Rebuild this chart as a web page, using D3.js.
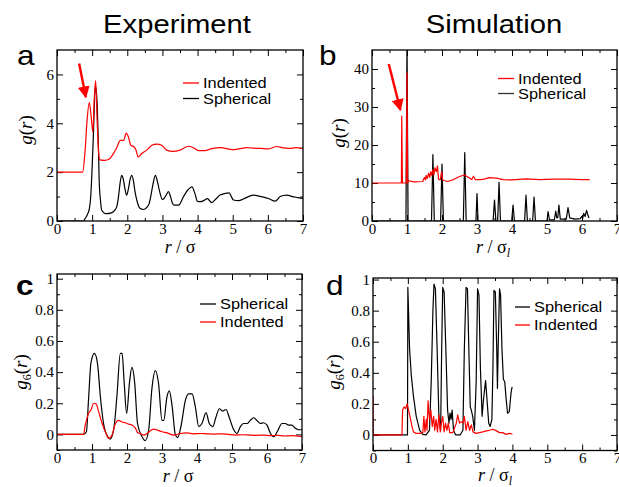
<!DOCTYPE html>
<html><head><meta charset="utf-8">
<script src="https://cdn.jsdelivr.net/npm/d3@7"></script>
<style>body{margin:0;background:#fff}svg{display:block}
.serif{font-family:'Liberation Serif','DejaVu Serif','Times New Roman',Times,serif}
</style>
</head><body>
<script>
// ---------------- DATA ----------------
const xMajor = [0,1,2,3,4,5,6,7];
const xMinor = [0.5,1.5,2.5,3.5,4.5,5.5,6.5];
const aYMajor = [0,2,4,6];
const aYMinor = [1,3,5];
const bYMajor = [0,10,20,30,40];
const bYMinor = [5,15,25,35];
const cdYMajor = [0,0.2,0.4,0.6,0.8,1];
const cdYMinor = [-0.1,0.1,0.3,0.5,0.7,0.9];
const cdYLabels = ["0","0.2","0.4","0.6","0.8","1"];

// Panel a: experiment g(r)
const aIndented = [[0,2],[0.73,2],[0.8,2.9],[0.86,4.2],[0.92,4.85],[0.97,4.3],[1.02,3.65],[1.06,5.0],[1.10,5.75],[1.14,4.2],[1.18,2.9],[1.22,2.5],[1.35,2.48],[1.5,2.55],[1.6,2.75],[1.7,3.0],[1.8,3.3],[1.9,3.3],[1.97,3.6],[2.03,3.45],[2.1,3.1],[2.18,3.05],[2.25,2.9],[2.31,2.62],[2.41,2.76],[2.55,2.9],[2.7,3.1],[2.84,3.15],[2.98,3.1],[3.12,2.9],[3.3,2.85],[3.5,2.9],[3.74,3.06],[3.88,3.0],[4.03,2.88],[4.2,2.88],[4.4,2.96],[4.65,3.0],[5.0,2.92],[5.2,2.96],[5.4,3.0],[5.6,2.98],[5.8,2.97],[6.0,2.95],[6.26,3.05],[6.4,3.0],[6.6,2.97],[6.8,3.0],[7.0,2.96]];
const aSpherical = [[0,0],[0.75,0],[0.8,0.1],[0.86,0.25],[0.92,0.5],[0.96,1.0],[1.0,2.2],[1.03,3.3],[1.06,4.6],[1.09,5.5],[1.12,5.3],[1.15,4.5],[1.18,3.0],[1.2,1.67],[1.24,0.8],[1.27,0.45],[1.35,0.32],[1.42,0.3],[1.52,0.32],[1.6,0.38],[1.7,0.58],[1.75,1.0],[1.8,1.6],[1.84,1.87],[1.88,1.75],[1.93,1.35],[1.98,1.06],[2.03,1.3],[2.08,1.7],[2.13,1.87],[2.18,1.6],[2.22,1.2],[2.27,0.86],[2.36,0.52],[2.46,0.47],[2.55,0.55],[2.62,0.7],[2.68,1.1],[2.73,1.5],[2.8,1.87],[2.86,1.6],[2.93,1.15],[3.0,0.88],[3.06,0.95],[3.12,1.1],[3.17,1.2],[3.23,1.0],[3.28,0.75],[3.33,0.65],[3.46,0.65],[3.6,1.0],[3.74,1.3],[3.84,1.4],[3.93,1.1],[4.0,0.8],[4.08,0.79],[4.17,0.83],[4.28,0.92],[4.4,0.75],[4.52,0.9],[4.64,1.06],[4.79,1.13],[4.9,1.15],[4.96,1.0],[5.02,0.86],[5.17,0.83],[5.3,0.9],[5.45,1.0],[5.59,1.06],[5.74,1.02],[5.88,0.98],[6.02,0.92],[6.21,0.81],[6.35,1.0],[6.54,1.06],[6.7,1.0],[6.85,0.96],[7.0,0.92]];

// Panel b: simulation g(r)
const bIndented = [[0,10],[0.84,10],[0.85,27.6],[0.87,10],[0.98,10],[1.0,39],[1.02,10],[1.05,10.6],[1.2,10.3],[1.45,10.4],[1.5,11.5],[1.53,10.8],[1.55,12],[1.58,11.2],[1.62,12.6],[1.65,11.5],[1.68,13],[1.71,12],[1.74,13.5],[1.77,12.2],[1.8,14],[1.84,13],[1.87,14.5],[1.9,11],[1.95,10.8],[1.99,13],[2.02,10.8],[2.08,10.6],[2.16,10.4],[2.3,10.8],[2.5,11.7],[2.64,12.1],[2.75,11.5],[2.85,10.9],[2.9,11.8],[2.95,10.9],[3.1,10.9],[3.2,11],[3.35,11.4],[3.55,11.3],[3.75,10.9],[4.0,10.8],[4.4,11.1],[4.8,10.9],[5.2,11],[5.6,11],[6.0,10.9],[6.22,10.9]];
const bSpherical = [[0,0],[0.97,0],[1.0,48],[1.03,0],[1.70,0],[1.74,17.5],[1.78,0],[1.96,0],[2.0,15],[2.04,0],[2.61,0],[2.65,18],[2.69,0],[2.97,0],[3.0,7.2],[3.03,0],[3.46,0],[3.5,5.5],[3.54,0],[3.59,0],[3.63,10.2],[3.67,0],[3.99,0],[4.03,4.2],[4.07,0],[4.36,0],[4.4,6.8],[4.44,0],[4.59,0],[4.63,6.3],[4.67,0],[5.0,0],[5.03,2.5],[5.07,0.3],[5.21,0.3],[5.25,2.6],[5.28,0.8],[5.31,1],[5.34,4.2],[5.38,0.5],[5.55,0.5],[5.6,3.5],[5.65,0.8],[5.8,0.5],[5.95,0.6],[5.99,1.2],[6.02,0.7],[6.05,2],[6.09,1.2],[6.13,2.8],[6.17,1.5],[6.2,0.8]];

// Panel c: experiment g6(r)
const cSpherical = [[0,0],[0.76,0],[0.84,0.017],[0.9,0.22],[0.97,0.46],[1.07,0.52],[1.16,0.45],[1.24,0.24],[1.33,0.07],[1.45,-0.015],[1.52,-0.03],[1.62,0.03],[1.71,0.24],[1.81,0.52],[1.86,0.52],[1.92,0.33],[1.99,0.135],[2.07,0.33],[2.14,0.43],[2.22,0.33],[2.3,0.07],[2.43,-0.015],[2.52,-0.04],[2.62,0.03],[2.71,0.29],[2.81,0.41],[2.9,0.33],[3.0,0.09],[3.05,0.09],[3.14,0.24],[3.21,0.28],[3.29,0.18],[3.38,0.0],[3.45,-0.02],[3.54,0.05],[3.67,0.22],[3.76,0.26],[3.86,0.26],[3.95,0.18],[4.05,0.05],[4.14,0.07],[4.26,0.14],[4.35,0.07],[4.45,0.05],[4.54,0.11],[4.64,0.165],[4.73,0.15],[4.83,0.16],[4.92,0.11],[5.05,0.03],[5.14,0.006],[5.24,0.05],[5.33,0.07],[5.43,0.07],[5.52,0.09],[5.62,0.107],[5.71,0.09],[5.81,0.07],[5.9,0.075],[6.0,0.06],[6.1,0.006],[6.19,-0.015],[6.29,0.017],[6.43,0.07],[6.52,0.07],[6.62,0.06],[6.71,0.06],[6.81,0.04],[6.9,0.03],[7.0,0.03]];
const cIndented = [[0,0],[0.76,0],[0.8,0.05],[0.84,0.09],[0.9,0.135],[0.97,0.157],[1.05,0.2],[1.12,0.195],[1.19,0.146],[1.29,0.07],[1.38,0.017],[1.48,-0.026],[1.57,-0.004],[1.67,0.07],[1.76,0.09],[1.86,0.08],[1.95,0.075],[2.05,0.066],[2.14,0.06],[2.24,0.04],[2.31,0.01],[2.38,0.006],[2.48,-0.004],[2.57,0.006],[2.67,0.024],[2.76,0.034],[2.86,0.028],[3.0,0.017],[3.14,0.01],[3.33,-0.004],[3.52,0.006],[3.71,0.01],[3.9,0.004],[4.1,0.006],[4.3,0.004],[4.5,0.002],[4.7,0.004],[4.9,0.0],[5.1,-0.004],[5.3,-0.002],[5.5,-0.004],[5.7,-0.006],[5.9,-0.004],[6.1,-0.008],[6.3,-0.006],[6.5,-0.01],[6.7,-0.008],[7.0,-0.015]];

// Panel d: simulation g6(r)
const dSpherical = [[0,0],[0.99,0],[1.0,0.95],[1.05,0.55],[1.1,0.38],[1.16,0.25],[1.24,0.12],[1.34,0.03],[1.43,0.004],[1.52,0],[1.62,0.03],[1.67,0.34],[1.72,0.81],[1.75,0.97],[1.79,0.94],[1.84,0.55],[1.89,0.12],[1.94,0.03],[1.97,0.55],[2.0,0.95],[2.04,0.92],[2.09,0.55],[2.14,0.16],[2.18,0.076],[2.21,0.14],[2.24,0.1],[2.27,0.16],[2.31,0.03],[2.37,0],[2.5,0],[2.58,0.03],[2.62,0.55],[2.67,0.95],[2.71,0.94],[2.75,0.55],[2.79,0.18],[2.82,0.16],[2.86,0.12],[2.91,0.03],[2.96,0.34],[3.0,0.94],[3.04,0.9],[3.08,0.44],[3.13,0.12],[3.17,0.23],[3.23,0.35],[3.27,0.23],[3.32,0.076],[3.36,0.054],[3.41,0.1],[3.44,0.42],[3.47,0.93],[3.51,0.92],[3.55,0.55],[3.57,0.3],[3.59,0.55],[3.63,0.94],[3.66,0.9],[3.7,0.55],[3.74,0.36],[3.78,0.34],[3.82,0.23],[3.86,0.14],[3.91,0.15],[3.96,0.27],[3.99,0.31]];
const dIndented = [[0,0.25],[0.005,0],[0.83,0],[0.85,0.16],[0.89,0.18],[0.94,0.17],[0.98,0.2],[1.02,0.16],[1.07,0.11],[1.12,0.054],[1.16,0.02],[1.24,0.01],[1.34,0.01],[1.43,0.015],[1.46,0.12],[1.49,0.02],[1.53,0.1],[1.55,0.03],[1.58,0.22],[1.62,0.1],[1.66,0.16],[1.7,0.054],[1.74,0.12],[1.77,0.03],[1.81,0.1],[1.85,0.02],[1.89,0.13],[1.93,0.02],[1.96,0.076],[2.0,0.12],[2.04,0.02],[2.08,0.076],[2.12,0.03],[2.16,0.076],[2.2,0.015],[2.29,0.015],[2.39,0.076],[2.43,0.13],[2.48,0.076],[2.53,0.086],[2.58,0.076],[2.62,0.12],[2.67,0.03],[2.72,0.086],[2.77,0.03],[2.82,0.065],[2.87,0.02],[2.96,0.01],[3.05,0.015],[3.15,0.02],[3.25,0.026],[3.34,0.03],[3.44,0.037],[3.53,0.028],[3.63,0.015],[3.72,0.015],[3.82,0.004],[3.91,0.01],[4.0,0.006]];

// arrows (data units of their panel)
const arrowA = [[0.63,6.45],[0.82,5.07]];
const arrowB = [[0.48,41.3],[0.81,29.2]];

// ---------------- DRAW ----------------
const W = 619, H = 487;
const RED = "#ff0000", BLACK = "#000000";
const SANS = "'Liberation Sans', Arial, sans-serif";
const SX = 1.17; // horizontal stretch of sans text in the reference

const svg = d3.select("body").append("svg").attr("width", W).attr("height", H);
const defs = svg.append("defs");
defs.append("marker").attr("id","ah").attr("viewBox","0 0 10 10").attr("refX",9).attr("refY",5)
  .attr("markerWidth",5).attr("markerHeight",5).attr("markerUnits","strokeWidth").attr("orient","auto")
  .append("path").attr("d","M0,0 L10,5 L0,10 z").attr("fill",RED);

function sansText(g, x, y, str, size, anchor, weight) {
  g.append("text").attr("transform", `translate(${x},${y}) scale(${SX},1)`)
    .style("font-family", SANS).attr("font-size", size).attr("text-anchor", anchor || "start")
    .attr("font-weight", weight || "normal").attr("fill", "#000").text(str);
}

let clipId = 0;
function panel(cfg) {
  const g = svg.append("g");
  const x = d3.scaleLinear().domain([0, 7]).range(cfg.xr);
  const y = d3.scaleLinear().domain(cfg.yd).range(cfg.yr);
  const [x0, x1] = cfg.xr, [y0, y1] = cfg.yr; // y0 bottom, y1 top
  const cid = "clip" + (clipId++);
  defs.append("clipPath").attr("id", cid).append("rect")
    .attr("x", x0).attr("y", y1).attr("width", x1 - x0).attr("height", y0 - y1);

  const styleAxis = sel => {
    sel.attr("font-family", null).attr("font-size", null);
    sel.select(".domain").remove();
    sel.selectAll(".tick line").attr("stroke", "#000").attr("stroke-width", 1);
    sel.selectAll("text").attr("class", "serif").attr("font-size", 15).attr("fill", "#000");
  };
  // bottom
  g.append("g").attr("transform", `translate(0,${y0})`)
    .call(d3.axisBottom(x).tickValues(xMajor).tickSize(-6).tickPadding(2).tickFormat(d3.format("d")))
    .call(styleAxis);
  g.append("g").attr("transform", `translate(0,${y0})`)
    .call(d3.axisBottom(x).tickValues(xMinor).tickSize(-3).tickFormat("")).call(styleAxis);
  // top
  g.append("g").attr("transform", `translate(0,${y1})`)
    .call(d3.axisTop(x).tickValues(xMajor).tickSize(-6).tickFormat("")).call(styleAxis);
  g.append("g").attr("transform", `translate(0,${y1})`)
    .call(d3.axisTop(x).tickValues(xMinor).tickSize(-3).tickFormat("")).call(styleAxis);
  // left
  const lab = cfg.yLabels;
  g.append("g").attr("transform", `translate(${x0},0)`)
    .call(d3.axisLeft(y).tickValues(cfg.yMajor).tickSize(-6).tickPadding(3)
      .tickFormat((d, i) => lab ? lab[i] : d3.format("d")(d)))
    .call(styleAxis);
  g.append("g").attr("transform", `translate(${x0},0)`)
    .call(d3.axisLeft(y).tickValues(cfg.yMinor).tickSize(-3).tickFormat("")).call(styleAxis);
  // right
  g.append("g").attr("transform", `translate(${x1},0)`)
    .call(d3.axisRight(y).tickValues(cfg.yMajor).tickSize(-6).tickFormat("")).call(styleAxis);
  g.append("g").attr("transform", `translate(${x1},0)`)
    .call(d3.axisRight(y).tickValues(cfg.yMinor).tickSize(-3).tickFormat("")).call(styleAxis);

  // series
  const plot = g.append("g").attr("clip-path", `url(#${cid})`);
  cfg.series.forEach(s => {
    const line = d3.line().x(d => x(d[0])).y(d => y(d[1])).curve(s.curve || d3.curveLinear);
    plot.append("path").datum(s.data).attr("d", line).attr("fill", "none")
      .attr("stroke", s.color).attr("stroke-width", 1.2).attr("stroke-linejoin", "round");
  });

  // frame
  g.append("rect").attr("x", x0).attr("y", y1).attr("width", x1 - x0).attr("height", y0 - y1)
    .attr("fill", "none").attr("stroke", "#000").attr("stroke-width", 1.3);

  // arrow
  if (cfg.arrow) {
    g.append("line").attr("x1", x(cfg.arrow[0][0])).attr("y1", y(cfg.arrow[0][1]))
      .attr("x2", x(cfg.arrow[1][0])).attr("y2", y(cfg.arrow[1][1]))
      .attr("stroke", RED).attr("stroke-width", 2.4).attr("marker-end", "url(#ah)");
  }

  // legend
  cfg.legend.items.forEach((it, i) => {
    const ly = cfg.legend.y + i * cfg.legend.dy;
    g.append("line").attr("x1", cfg.legend.x).attr("x2", cfg.legend.x + cfg.legend.len)
      .attr("y1", ly).attr("y2", ly).attr("stroke", it.color).attr("stroke-width", 1.3);
    sansText(g, cfg.legend.x + cfg.legend.len + 4, ly + 5, it.label, 14);
  });

  // x label
  const xl = g.append("text").attr("x", cfg.xLab[0]).attr("y", cfg.xLab[1]).attr("text-anchor", "middle")
    .attr("class", "serif").attr("font-size", 18);
  xl.append("tspan").attr("font-style", "italic").text("r");
  xl.append("tspan").text(" / σ");
  if (cfg.sub) xl.append("tspan").attr("font-style", "italic").attr("font-size", 12).attr("dy", 4).text("l");

  // y label
  const yl = g.append("text").attr("transform", `translate(${cfg.yLab[0]},${cfg.yLab[1]}) rotate(-90)`)
    .attr("text-anchor", "middle").attr("class", "serif").attr("font-size", 19);
  yl.append("tspan").attr("font-style", "italic").text("g");
  if (cfg.g6) {
    yl.append("tspan").attr("font-size", 12).attr("dy", 4).text("6");
    yl.append("tspan").attr("dy", -4).text("(");
  } else {
    yl.append("tspan").text("(");
  }
  yl.append("tspan").attr("font-style", "italic").text("r");
  yl.append("tspan").text(")");

  // panel letter
  sansText(svg, cfg.letter[0], cfg.letter[1], cfg.letter[2], 27, "start", cfg.letter[3]);
}

// titles
sansText(svg, 177, 33, "Experiment", 25, "middle");
sansText(svg, 494, 33, "Simulation", 25, "middle");

panel({
  xr: [57, 303], yr: [221, 50], yd: [0, 7], yMajor: aYMajor, yMinor: aYMinor,
  series: [
    { data: aSpherical, color: BLACK, curve: d3.curveMonotoneX },
    { data: aIndented, color: RED, curve: d3.curveMonotoneX }
  ],
  legend: { x: 183, y: 83, dy: 15.5, len: 16, items: [{ label: "Indented", color: RED }, { label: "Spherical", color: BLACK }] },
  arrow: arrowA, xLab: [180, 253], yLab: [32, 130], letter: [17, 65, "a"]
});
panel({
  xr: [372, 617], yr: [221, 50], yd: [0, 45], yMajor: bYMajor, yMinor: bYMinor,
  series: [
    { data: bSpherical, color: BLACK },
    { data: bIndented, color: RED }
  ],
  legend: { x: 498, y: 78.5, dy: 15, len: 16, items: [{ label: "Indented", color: RED }, { label: "Spherical", color: "#333" }] },
  arrow: arrowB, xLab: [493, 253], yLab: [345, 133], letter: [319, 65, "b"], sub: true
});
panel({
  xr: [57, 302], yr: [450, 274], yd: [-0.1, 1.03], yMajor: cdYMajor, yMinor: cdYMinor, yLabels: cdYLabels,
  series: [
    { data: cSpherical, color: BLACK, curve: d3.curveMonotoneX },
    { data: cIndented, color: RED, curve: d3.curveMonotoneX }
  ],
  legend: { x: 200, y: 304, dy: 18, len: 16, items: [{ label: "Spherical", color: BLACK }, { label: "Indented", color: RED }] },
  xLab: [178, 482], yLab: [27, 372], letter: [16, 295, "c", "bold"], g6: true
});
panel({
  xr: [373, 617], yr: [450.5, 278], yd: [-0.1, 1.01], yMajor: cdYMajor, yMinor: cdYMinor, yLabels: cdYLabels,
  series: [
    { data: dSpherical, color: BLACK },
    { data: dIndented, color: RED }
  ],
  legend: { x: 515, y: 307, dy: 18, len: 15, items: [{ label: "Spherical", color: BLACK }, { label: "Indented", color: RED }] },
  xLab: [495, 481], yLab: [340, 372], letter: [326, 295, "d"], sub: true, g6: true
});
</script>
</body></html>
